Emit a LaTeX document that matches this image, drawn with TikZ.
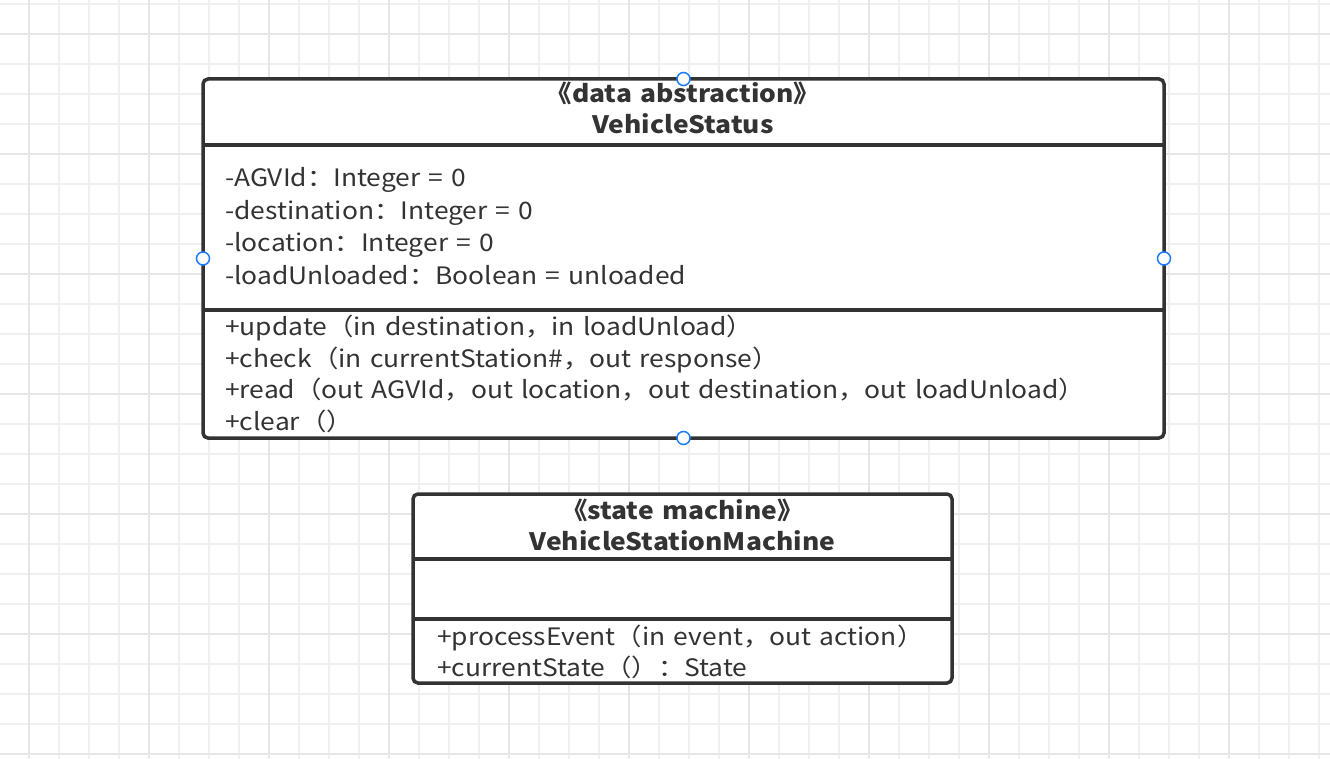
\documentclass[tikz,border=0pt]{standalone}
\usepackage{fontspec}
\setmainfont{Noto Sans CJK SC}[FakeStretch=1.1,WordSpace=1.4]
\usetikzlibrary{positioning}
\definecolor{umlline}{HTML}{333333}
\definecolor{gridthin}{HTML}{F0F0F0}
\definecolor{gridthick}{HTML}{E6E6E6}
\definecolor{handle}{HTML}{1A7BFF}

\begin{document}
\begin{tikzpicture}[
  x=1pt,y=-1pt,
  cls/.style={draw=umlline,fill=white,line width=3.5pt,rounded corners=5pt,outer sep=0pt,inner sep=0pt,anchor=north west},
  bar/.style={draw=umlline,line width=3.5pt},
  member/.style={anchor=base west,inner sep=0pt,text=umlline,font=\fontsize{24}{32}\selectfont},
  title/.style={anchor=base,inner sep=0pt,text=umlline,font=\fontsize{24}{32}\selectfont\bfseries},
  pin/.style={circle,draw=handle,fill=white,line width=1.5pt,minimum size=13pt,inner sep=0pt}
]
\useasboundingbox (0,0) rectangle (1330,759);
% grid
\fill[white] (0,0) rectangle (1330,759);
\foreach \gx in {-1,29,...,1319} \draw[gridthin,line width=1.5pt] (\gx,0) -- (\gx,759);
\foreach \gy in {4,34,...,754} \draw[gridthin,line width=1.5pt] (0,\gy) -- (1330,\gy);
\foreach \gx in {29,149,...,1229} \draw[gridthick,line width=2.5pt] (\gx,0) -- (\gx,759);
\foreach \gy in {34,154,...,754} \draw[gridthick,line width=2.5pt] (0,\gy) -- (1330,\gy);

% VehicleStatus
\node[cls,minimum width=961pt,minimum height=359pt] (vs) at (203,79) {};
\draw[bar] (203,145) -- (1164,145);
\draw[bar] (203,310) -- (1164,310);
\node[title] (vs-st) at (683,103) {《data abstraction》};
\node[title] (vs-nm) at (683,134) {VehicleStatus};
\node[member] (vs-a1) at (225,187) {-AGVId：Integer = 0};
\node[member] (vs-a2) at (225,220) {-destination：Integer = 0};
\node[member] (vs-a3) at (225,252) {-location：Integer = 0};
\node[member] (vs-a4) at (225,284) {-loadUnloaded：Boolean = unloaded};
\node[member] (vs-m1) at (225,335) {+update（in destination，in loadUnload）};
\node[member] (vs-m2) at (225,367) {+check（in currentStation\#，out response）};
\node[member] (vs-m3) at (225,398) {+read（out AGVId，out location，out destination，out loadUnload）};
\node[member] (vs-m4) at (225,430) {+clear（）};
\node[pin] (vs-n) at (vs.north) {};
\node[pin] (vs-s) at (vs.south) {};
\node[pin] (vs-w) at (vs.west) {};
\node[pin] (vs-e) at (vs.east) {};

% VehicleStationMachine
\node[cls,minimum width=539pt,minimum height=189pt] (vsm) at (413,494) {};
\draw[bar] (413,559) -- (952,559);
\draw[bar] (413,619) -- (952,619);
\node[title] (vsm-st) at (682.5,519) {《state machine》};
\node[title] (vsm-nm) at (682.5,550) {VehicleStationMachine};
\node[member] (vsm-m1) at (437,645) {+processEvent（in event，out action）};
\node[member] (vsm-m2) at (437,676) {+currentState（）：State};
\end{tikzpicture}
\end{document}
